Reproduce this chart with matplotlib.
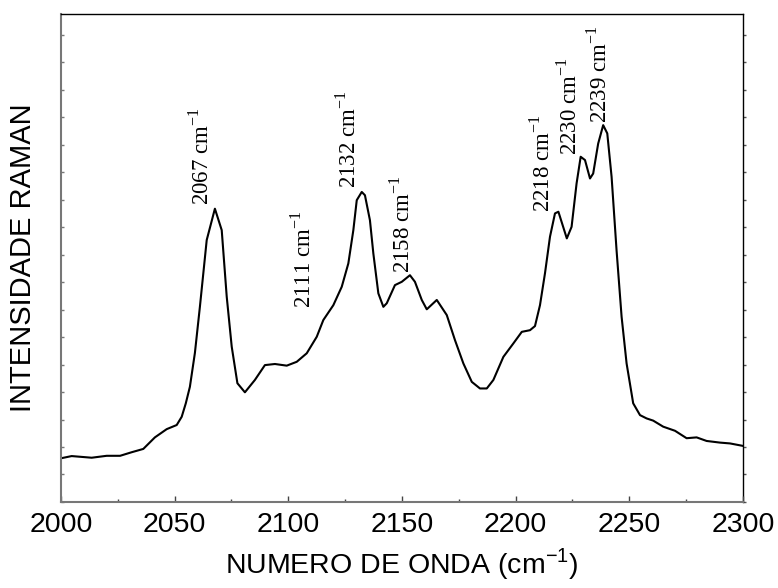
import numpy as np
import matplotlib
matplotlib.use('Agg')
import matplotlib.pyplot as plt

plt.rcParams['font.family'] = ['Liberation Sans', 'DejaVu Sans']
plt.rcParams['mathtext.fontset'] = 'custom'
plt.rcParams['mathtext.rm'] = 'Liberation Serif'
plt.rcParams['mathtext.sf'] = 'Liberation Sans'

# Raman spectrum (wavenumber, intensity in arbitrary units)
wavenumber = [2000.0, 2004.7, 2013.5, 2020.1, 2026.0, 2031.1, 2036.2, 2041.3, 2046.5,
              2050.9, 2053.1, 2054.9, 2056.7, 2058.9, 2061.1, 2064.1, 2067.7, 2070.7,
              2072.9, 2075.1, 2077.6, 2080.9, 2085.3, 2089.7, 2094.1, 2099.3, 2103.7,
              2108.1, 2112.5, 2115.4, 2119.8, 2123.5, 2126.4, 2128.6, 2130.1, 2132.3,
              2133.7, 2135.9, 2137.4, 2139.6, 2141.8, 2143.3, 2146.9, 2149.9, 2153.5,
              2155.7, 2158.7, 2160.9, 2165.3, 2169.7, 2173.3, 2177.0, 2180.7, 2184.3,
              2187.3, 2190.2, 2194.6, 2199.0, 2202.7, 2206.3, 2208.5, 2210.7, 2212.9,
              2215.1, 2217.3, 2218.8, 2222.5, 2224.6, 2226.8, 2228.6, 2230.5, 2232.7,
              2234.1, 2236.3, 2238.5, 2240.3, 2242.2, 2244.4, 2246.6, 2248.8, 2251.7,
              2254.7, 2257.6, 2260.5, 2264.9, 2270.1, 2275.2, 2279.6, 2284.0, 2289.9,
              2294.3, 2300.0]
intensity = [1.59, 1.67, 1.61, 1.68, 1.68, 1.81, 1.93, 2.35, 2.65,
             2.80, 3.10, 3.59, 4.19, 5.42, 7.10, 9.53, 10.67, 9.89,
             7.47, 5.65, 4.32, 3.99, 4.44, 4.98, 5.02, 4.96, 5.10,
             5.41, 6.01, 6.62, 7.16, 7.83, 8.68, 9.89, 10.98, 11.28,
             11.16, 10.25, 9.04, 7.59, 7.10, 7.23, 7.89, 8.01, 8.25,
             8.01, 7.35, 7.01, 7.35, 6.80, 5.89, 5.04, 4.37, 4.13,
             4.13, 4.44, 5.28, 5.77, 6.19, 6.25, 6.40, 7.16, 8.32,
             9.65, 10.50, 10.56, 9.59, 10.01, 11.59, 12.56, 12.44, 11.77,
             11.95, 13.04, 13.71, 13.41, 11.83, 9.14, 6.74, 5.04, 3.59,
             3.16, 3.04, 2.96, 2.74, 2.59, 2.32, 2.35, 2.22, 2.16,
             2.13, 2.04]

# peak annotations: text, anchor wavenumber, anchor intensity (bottom of rotated text)
peak_names = ['2067', '2111', '2132', '2158', '2218', '2230', '2239']
peak_x = [2061.6, 2106.5, 2126.2, 2150.0, 2211.6, 2223.5, 2236.7]
peak_y = [10.80, 7.05, 11.42, 8.33, 10.55, 12.62, 13.78]

x_ticks = [2000, 2050, 2100, 2150, 2200, 2250, 2300]

fig = plt.figure(figsize=(7.78, 5.88), dpi=100)
ax = fig.add_axes([0.0784, 0.1463, 0.8766, 0.8297])

ax.plot(wavenumber, intensity, color='black', linewidth=1.5)

for name, px, py in zip(peak_names, peak_x, peak_y):
    ax.text(px, py, name + r' cm$^{\mathrm{-1}}$', rotation=90, ha='center', va='bottom',
            family='Liberation Serif', fontsize=16.5)

ax.set_xlim(2000, 2300)
ax.set_ylim(0, 17.75)
ax.set_xticks(x_ticks)
ax.set_xticks(np.arange(2025, 2300, 50), minor=True)
ax.set_yticks(np.arange(0, 18, 1))
ax.set_yticklabels([])
ax.tick_params(axis='x', which='major', direction='in', length=4.5, width=1,
               labelsize=20.5, pad=7, color='#444444')
ax.tick_params(axis='x', which='minor', direction='in', length=2.5, width=1, color='#444444')
ax.tick_params(axis='y', direction='in', length=1.8, width=1, color='#777777')

for side in ['left', 'bottom']:
    ax.spines[side].set_color('#777777')
    ax.spines[side].set_linewidth(1.5)
ax.spines['top'].set_linewidth(1.0)
ax.spines['right'].set_visible(False)

sec = ax.secondary_yaxis('right')
sec.set_yticks(np.arange(0, 18, 1))
sec.set_yticklabels([])
sec.tick_params(direction='out', length=2.5, width=1, color='#555555')
sec.spines['right'].set_linewidth(1.0)

ax.set_xlabel(r'NUMERO DE ONDA (cm$^{\mathsf{-1}}$)', fontsize=20.5, labelpad=6)
ax.set_ylabel('INTENSIDADE RAMAN', fontsize=21, labelpad=14)

fig.savefig('out.png', dpi=100)
